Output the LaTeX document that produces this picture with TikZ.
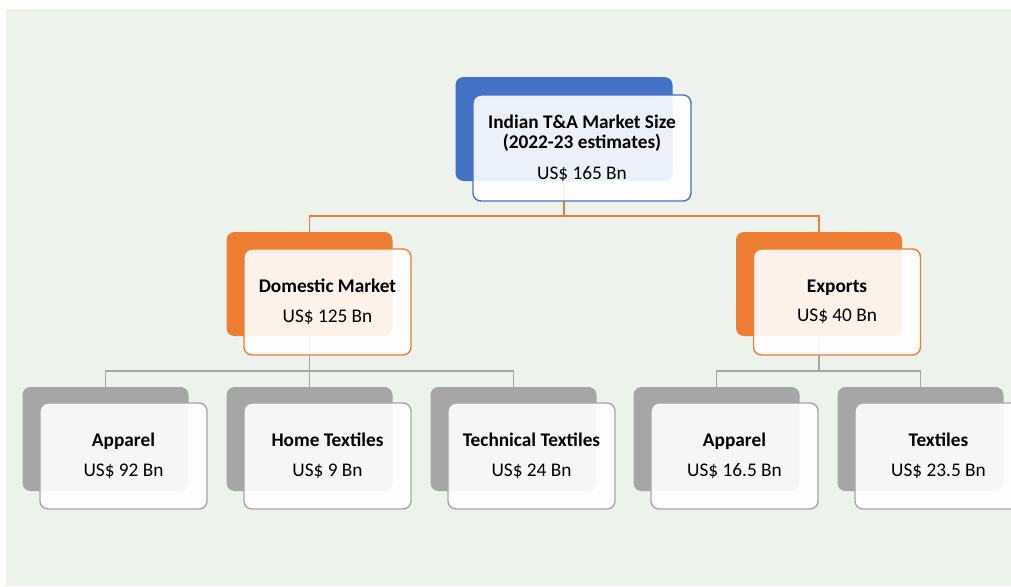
\documentclass[tikz,border=0pt]{standalone}
\usepackage{fontspec}
\setmainfont{Carlito}
\usepackage{xcolor}
\definecolor{tablue}{RGB}{68,114,196}
\definecolor{taorange}{RGB}{237,125,49}
\definecolor{tagray}{RGB}{166,166,166}
\definecolor{pagebg}{RGB}{237,242,237}

\begin{document}
\begin{tikzpicture}[x=1pt, y=-1pt,
  backbox/.style={rectangle,rounded corners=8pt,minimum width=166pt,minimum height=104pt,inner sep=0pt},
  frontbox/.style={rectangle,rounded corners=8pt,minimum width=167pt,minimum height=106pt,inner sep=0pt,
    fill=white,fill opacity=.9,text opacity=1,line width=1.4pt,align=center,
    font=\fontsize{19.3}{20.5}\selectfont},
  wide/.style={minimum width=217pt},
  link/.style={line width=1.3pt}]
  \useasboundingbox (0,0) rectangle (1011,586);
  \clip (0,0) rectangle (1011,586);
  \fill[pagebg] (6,9) rectangle (1011,586);

  % coloured cards behind
  \node[backbox,wide,fill=tablue] (topB) at (564,129) {};
  \node[backbox,fill=taorange] (domB) at (309.5,284) {};
  \node[backbox,fill=taorange] (expB) at (819,284) {};
  \node[backbox,fill=tagray] (appB) at (105.5,439) {};
  \node[backbox,fill=tagray] (homeB) at (309.5,439) {};
  \node[backbox,fill=tagray] (techB) at (513.5,439) {};
  \node[backbox,fill=tagray] (eappB) at (716.5,439) {};
  \node[backbox,fill=tagray] (texB) at (920.5,439) {};

  % tree links
  \coordinate (bus1) at (564,216);
  \coordinate (bus2) at (309.5,371);
  \coordinate (bus3) at (819,371);
  \draw[link,taorange] (topB.south) -- (bus1) -| (domB.north);
  \draw[link,taorange] (bus1) -| (expB.north);
  \draw[link,tagray] (domB.south) -- (bus2) -| (appB.north);
  \draw[link,tagray] (bus2) -| (techB.north);
  \draw[link,tagray] (bus2) -- (homeB.north);
  \draw[link,tagray] (expB.south) -- (bus3) -| (eappB.north);
  \draw[link,tagray] (bus3) -| (texB.north);

  % white cards with the figures
  \node[frontbox,wide,minimum width=218pt,draw=tablue] (top) at ([shift={(18,19)}]topB.center)
    {\textbf{Indian T\&A Market Size}\\\textbf{(2022-23 estimates)}\\[10pt]US\$ 165 Bn};
  \node[frontbox,draw=taorange] (dom) at ([shift={(18,18)}]domB.center)
    {\textbf{Domestic Market}\\[9pt]US\$ 125 Bn};
  \node[frontbox,draw=taorange] (exp) at ([shift={(18,18)}]expB.center)
    {\textbf{Exports}\\[9pt]US\$ 40 Bn};
  \node[frontbox,draw=tagray] (app) at ([shift={(18,17)}]appB.center)
    {\textbf{Apparel}\\[9pt]US\$ 92 Bn};
  \node[frontbox,draw=tagray] (home) at ([shift={(18,17)}]homeB.center)
    {\textbf{Home Textiles}\\[9pt]US\$ 9 Bn};
  \node[frontbox,draw=tagray] (tech) at ([shift={(18,17)}]techB.center)
    {\textbf{Technical Textiles}\\[9pt]US\$ 24 Bn};
  \node[frontbox,draw=tagray] (eapp) at ([shift={(18,17)}]eappB.center)
    {\textbf{Apparel}\\[9pt]US\$ 16.5 Bn};
  \node[frontbox,draw=tagray] (tex) at ([shift={(18,17)}]texB.center)
    {\textbf{Textiles}\\[9pt]US\$ 23.5 Bn};
\end{tikzpicture}
\end{document}
